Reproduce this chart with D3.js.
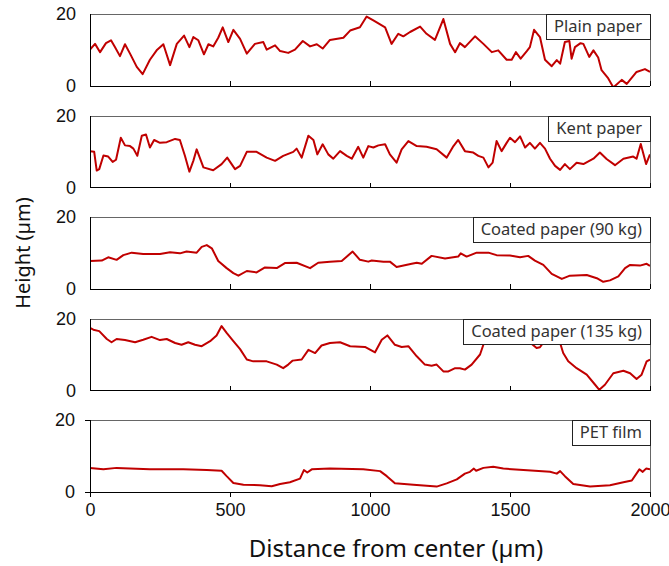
<!DOCTYPE html>
<html>
<head>
<meta charset="utf-8">
<script src="https://d3js.org/d3.v7.min.js"></script>
<style>
  body { margin: 0; background: #fff; }
  .tick text { font-family: "Liberation Sans", Arial, sans-serif; font-size: 18px; fill: #111; }
  .axis path, .axis line { stroke: #000; shape-rendering: crispEdges; }
  .frame { fill: none; stroke: #666; shape-rendering: crispEdges; }
  .trace { fill: none; stroke: #c00000; stroke-width: 2; stroke-linejoin: round; }
  .tag rect { fill: #fff; stroke: #222; shape-rendering: crispEdges; }
  .tag text { font-family: "Noto Sans", "DejaVu Sans", sans-serif; font-size: 16.5px; fill: #333; }
  .title { font-family: "Noto Sans", "Liberation Sans", sans-serif; font-size: 20px; fill: #111; }
</style>
</head>
<body>
<svg width="669" height="566"></svg>
<script>
// sample names (panel order, top to bottom)
var samples = ["Plain paper", "Kent paper", "Coated paper (90 kg)", "Coated paper (135 kg)", "PET film"];

var xTicks = [0, 500, 1000, 1500, 2000];
var yTicks = [0, 20];

// distance (µm) / height (µm) pairs
var plainX = [0,18,36,57,75,89,107,125,143,167,188,214,238,262,286,310,336,355,369,387,407,423,440,458,474,494,512,536,560,589,619,631,661,679,708,732,760,786,810,831,857,905,929,964,988,1012,1036,1054,1077,1101,1119,1143,1179,1202,1232,1262,1286,1304,1321,1339,1375,1405,1435,1458,1488,1506,1521,1538,1560,1571,1586,1607,1625,1649,1667,1679,1696,1712,1720,1732,1752,1762,1783,1798,1815,1827,1851,1869,1899,1917,1952,1982,2000];
var plainY = [10.1,11.7,9.4,11.9,12.7,10.8,8.3,11.6,9.0,5.3,3.3,7.3,9.9,11.6,5.8,11.7,14.0,10.8,13.6,12.7,8.8,11.6,11.0,13.4,16.3,12.2,15.6,13.1,9.0,11.7,12.2,10.1,11.3,9.7,9.2,10.1,12.5,11.0,11.6,10.4,12.8,13.4,15.4,16.3,19.3,18.2,17.1,16.3,11.7,14.5,13.8,15.0,16.5,14.5,12.8,18.6,11.7,9.4,11.9,10.8,13.8,11.7,9.4,9.9,7.3,7.3,9.4,7.6,9.7,10.8,15.6,13.6,7.3,5.5,7.2,6.2,12.2,12.5,7.6,10.8,11.9,11.7,8.1,9.9,7.9,4.4,2.1,-0.4,1.7,0.6,3.9,4.7,3.9];

var kentX = [0,15,24,33,48,65,81,93,110,125,143,155,169,185,200,214,229,250,274,304,321,339,355,369,381,405,440,470,490,518,536,560,595,631,661,690,726,738,756,780,798,812,831,851,869,893,917,935,958,976,994,1012,1030,1054,1071,1095,1113,1137,1167,1202,1238,1274,1298,1315,1339,1369,1387,1405,1423,1438,1452,1470,1488,1500,1518,1536,1554,1571,1589,1607,1625,1643,1661,1679,1696,1714,1738,1762,1798,1821,1845,1875,1905,1940,1952,1967,1986,2000];
var kentY = [10.1,9.9,4.7,5.1,8.9,8.6,7.1,7.7,13.8,11.7,11.5,10.8,8.8,14.4,14.7,11.1,13.2,12.4,12.6,13.5,13.2,8.8,4.4,7.4,10.6,5.6,4.8,6.5,8.3,5.1,6.0,9.9,9.9,8.3,7.4,8.8,9.9,10.8,8.3,14.4,13.2,9.2,12.0,9.2,8.0,10.1,8.8,8.0,11.3,8.3,11.5,11.1,11.7,12.0,9.2,6.9,10.6,12.9,11.5,11.3,10.6,8.3,11.5,13.2,10.1,9.7,8.8,8.3,5.6,6.9,12.9,10.1,12.4,13.8,12.6,14.2,11.1,12.4,10.8,12.4,10.8,8.0,6.0,4.9,6.5,5.1,6.9,6.5,8.0,9.7,7.9,6.2,8.0,8.6,8.0,12.1,6.5,9.2];

var coat90X = [0,42,65,95,119,149,190,250,286,321,345,381,399,417,435,458,488,512,530,560,595,625,667,696,738,786,815,857,899,938,964,994,1006,1048,1071,1095,1149,1167,1185,1220,1268,1315,1324,1345,1381,1423,1452,1500,1536,1565,1589,1619,1649,1685,1714,1774,1810,1833,1857,1887,1911,1929,1964,1988,2000];
var coat90Y = [7.8,7.9,8.8,8.1,9.4,10.1,9.7,9.7,10.2,9.9,10.4,10.1,11.7,12.2,11.3,7.8,5.8,4.4,3.7,5.0,4.6,6.0,5.8,7.2,7.3,5.8,7.3,7.6,7.8,10.4,8.1,7.6,7.9,7.6,7.6,6.1,7.0,7.3,7.0,9.2,8.5,9.0,9.9,9.0,10.1,10.1,9.4,9.3,8.8,9.2,7.9,6.7,4.2,2.8,3.7,3.9,3.0,2.0,2.4,3.5,5.8,6.7,6.5,7.0,6.4];

var coat135X = [0,12,33,60,77,95,125,161,190,220,250,274,304,327,351,375,399,429,452,470,488,512,536,560,583,631,667,690,708,724,756,780,804,827,857,893,929,982,1018,1042,1062,1089,1113,1137,1167,1196,1220,1238,1262,1280,1304,1321,1339,1363,1393,1407,1417,1452,1512,1560,1577,1595,1607,1625,1655,1679,1690,1708,1738,1774,1804,1819,1839,1869,1905,1929,1952,1970,1988,2000];
var coat135Y = [17.4,16.9,16.5,14.3,13.4,14.3,14.0,13.4,14.1,14.9,14.0,14.3,13.2,12.7,13.4,12.7,12.3,13.7,15.3,17.9,16.0,13.7,11.5,8.6,8.1,8.1,7.2,6.2,7.2,8.3,8.6,11.3,10.4,12.5,13.2,13.4,12.3,12.1,10.6,14.1,15.3,12.7,12.1,12.3,9.5,7.2,6.9,7.2,5.3,5.3,6.2,6.2,5.8,7.2,10.0,13.2,14.5,15.5,15.8,14.5,13.0,11.8,12.0,14.0,16.0,13.2,10.4,8.1,6.2,4.4,1.6,0.2,1.6,4.8,5.5,4.8,3.2,4.4,8.1,8.6];

var petX = [0,48,95,214,333,417,470,488,512,548,607,649,679,714,750,764,776,792,857,976,1036,1060,1089,1155,1238,1274,1310,1339,1357,1371,1379,1405,1440,1476,1548,1643,1667,1679,1696,1726,1786,1857,1905,1935,1962,1974,1986,2000];
var petY = [6.7,6.3,6.7,6.3,6.3,6.1,5.9,4.4,2.5,2.0,1.9,1.6,2.2,2.7,3.7,6.1,5.4,6.3,6.5,6.3,5.8,4.4,2.4,2.0,1.5,2.4,3.5,5.1,5.6,6.5,5.9,6.7,7.0,6.5,6.1,5.6,5.1,5.8,4.4,2.2,1.5,1.9,2.7,3.2,6.3,5.6,6.5,6.3];

var seriesX = [plainX, kentX, coat90X, coat135X, petX];
var seriesY = [plainY, kentY, coat90Y, coat135Y, petY];

var svg = d3.select("svg");
var left = 90, right = 650, top0 = 14, step = 101.5, h = 72;

var x = d3.scaleLinear().domain([0, 2000]).range([left, right]);
var y = d3.scaleLinear().domain([0, 20]).range([h, 0]);

samples.forEach(function(name, i) {
  var last = i == samples.length - 1;
  var g = svg.append("g").attr("transform", "translate(0," + (top0 + i * step) + ")");

  g.append("clipPath").attr("id", "clip" + i)
    .append("rect").attr("x", left).attr("y", 0).attr("width", right - left).attr("height", h);

  // top and right border
  g.append("path").attr("class", "frame")
    .attr("d", "M" + left + ",0.5H" + (right + 0.5) + "V" + h);

  var pts = seriesX[i].map(function(d, k) { return [d, seriesY[i][k]]; });
  g.append("path").attr("class", "trace")
    .attr("clip-path", "url(#clip" + i + ")")
    .attr("d", d3.line().x(function(d) { return x(d[0]); }).y(function(d) { return y(d[1]); })(pts));

  var xa = last ? d3.axisBottom(x).tickValues(xTicks).tickSize(5).tickPadding(6).tickFormat(d3.format("d"))
                : d3.axisTop(x).tickValues(xTicks).tickSize(5).tickFormat("");
  g.append("g").attr("class", "axis")
    .attr("transform", "translate(0," + h + ")")
    .call(xa)
    .call(function(s) { s.select(".domain").attr("d", "M" + left + ",0H" + right); });

  g.append("g").attr("class", "axis")
    .attr("transform", "translate(" + left + ",0)")
    .call(d3.axisLeft(y).tickValues(yTicks).tickSize(last ? 5 : 0).tickPadding(last ? 10 : 14))
    .call(function(s) { s.select(".domain").attr("d", "M0,0V" + h); });

  // label box
  var tag = g.append("g").attr("class", "tag");
  var t = tag.append("text").attr("y", 18).text(name);
  var w = t.node().getComputedTextLength() + 16;
  tag.attr("transform", "translate(" + (right - w) + ",0)");
  tag.insert("rect", "text").attr("x", 0.5).attr("y", 0.5).attr("width", w).attr("height", 25);
  t.attr("x", 8);
});

svg.append("text").attr("class", "title")
  .attr("x", 396).attr("y", 557).attr("text-anchor", "middle")
  .style("font-size", "24px")
  .text("Distance from center (µm)");

svg.append("text").attr("class", "title")
  .attr("transform", "translate(30,253) rotate(-90)")
  .attr("text-anchor", "middle")
  .text("Height (µm)");
</script>
</body>
</html>
